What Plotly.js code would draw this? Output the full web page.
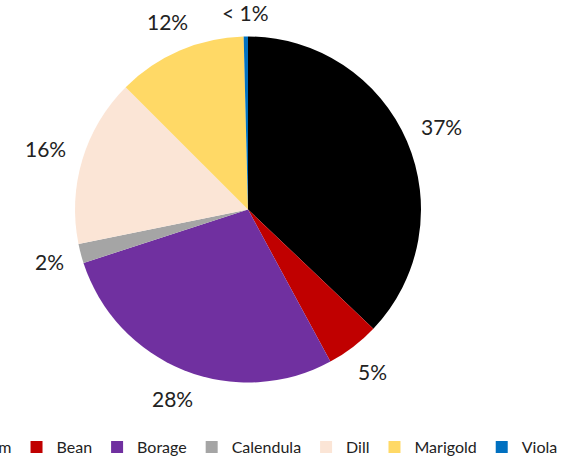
<!DOCTYPE html>
<html>
<head>
<meta charset="utf-8">
<script src="https://cdn.plot.ly/plotly-3.0.1.min.js"></script>
<style>
html,body{margin:0;padding:0;background:#fff;overflow:hidden;width:565px;height:460px;}
#chart{width:700px;height:460px;margin-left:-135px;}
</style>
</head>
<body>
<div id="chart"></div>
<script>
const categories = ["Alyssum", "Bean", "Borage", "Calendula", "Dill", "Marigold", "Viola"];
const shares = [37.1, 5.0, 27.9, 1.8, 15.7, 12.1, 0.4];
const labelTexts = ["37%", "5%", "28%", "2%", "16%", "12%", "< 1%"];
const colors = ["#000000", "#C00000", "#7030A0", "#A5A5A5", "#FBE5D6", "#FFD966", "#0070C0"];

const FONT = "Lato, 'Open Sans', sans-serif";
const LABEL_SIZE = 21;
const LABEL_GAP = 16;

const trace = {
  type: "pie",
  labels: categories,
  values: shares,
  text: labelTexts,
  textinfo: "none",
  sort: false,
  direction: "clockwise",
  rotation: 0,
  marker: { colors: colors, line: { width: 0 } },
  domain: { x: [0.3, 0.7943], y: [0.1105, 0.9151] },
  hoverinfo: "label+percent"
};

const layout = {
  width: 700,
  height: 460,
  margin: { l: 0, r: 0, t: 0, b: 30 },
  paper_bgcolor: "#fff",
  showlegend: true,
  legend: {
    orientation: "h",
    xref: "container",
    yref: "container",
    x: 0.997,
    xanchor: "right",
    y: 0.028,
    yanchor: "middle",
    font: { family: FONT, size: 16, color: "#222" },
    traceorder: "normal"
  }
};

function measure(txt) {
  const c = document.createElement("canvas").getContext("2d");
  c.font = LABEL_SIZE + "px Lato";
  return c.measureText(txt).width;
}

Plotly.newPlot("chart", [trace], layout, { displayModeBar: false, staticPlot: true }).then(function (gd) {
  const cd = gd.calcdata[0];
  const cx = cd[0].cx, cy = cd[0].cy, r = cd[0].r;
  const sz = gd._fullLayout._size;
  const anns = cd.map(function (pt, i) {
    const ux = pt.pxmid[0] / r, uy = pt.pxmid[1] / r;
    const hw = measure(labelTexts[i]) / 2, hh = LABEL_SIZE * 0.38;
    const d = r + LABEL_GAP + Math.abs(ux) * hw + Math.abs(uy) * hh;
    const px = cx + ux * d, py = cy + uy * d;
    return {
      text: labelTexts[i],
      x: (px - sz.l) / sz.w,
      y: 1 - (py - sz.t) / sz.h,
      xref: "paper", yref: "paper",
      xanchor: "center", yanchor: "middle",
      showarrow: false,
      font: { family: FONT, size: LABEL_SIZE, color: "#222" }
    };
  });
  return Plotly.relayout(gd, { annotations: anns });
});
</script>
</body>
</html>
